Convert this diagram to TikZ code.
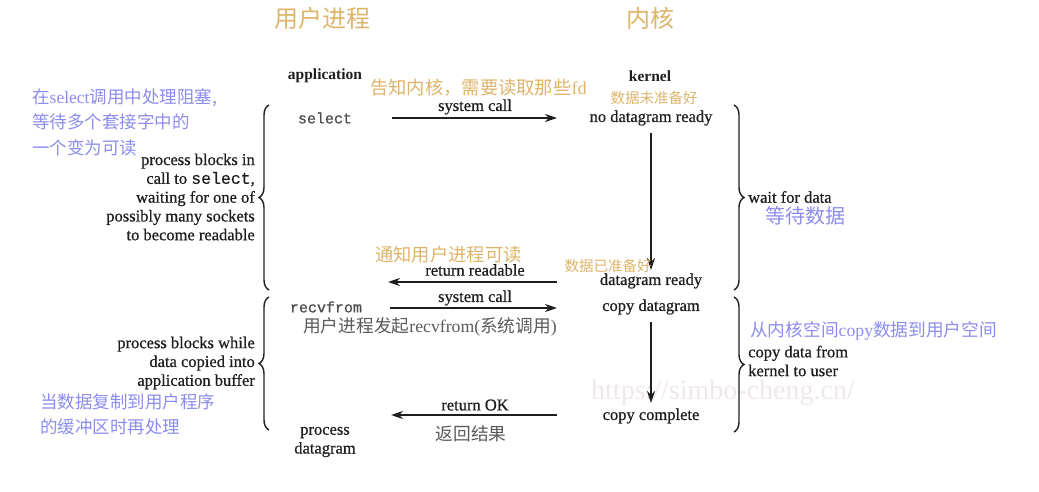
\documentclass[tikz,border=0pt]{standalone}
\usepackage{fontspec}
\setmainfont{Liberation Serif}
\setmonofont{Liberation Mono}
\newfontfamily\semib{Liberation Serif}[FakeBold=0.7]
\newfontfamily\monob{Liberation Mono}[FakeBold=0.6]
\newfontfamily\cjk{Noto Sans CJK SC}
\usetikzlibrary{arrows.meta,decorations.pathreplacing}
\definecolor{tanc}{HTML}{DDB46A}
\definecolor{vio}{HTML}{8C8CEE}
\definecolor{grc}{HTML}{5A5A5A}
\definecolor{wm}{HTML}{F0E8E8}
\definecolor{ink}{HTML}{1E1E1E}
\begin{document}
\begin{tikzpicture}[x=1pt,y=-1pt,
  en/.style={font=\semib\fontsize{16.5}{18.8}\selectfont, text=ink, inner sep=0pt},
  enb/.style={font=\bfseries\fontsize{15.5}{18}\selectfont, text=ink, inner sep=0pt},
  mono/.style={font=\monob\fontsize{15}{17}\selectfont, text=ink!80, inner sep=0pt},
  title/.style={font=\cjk\fontsize{24}{28}\selectfont, text=tanc, inner sep=0pt},
  cntan/.style={font=\cjk\fontsize{18.3}{21}\selectfont, text=tanc, inner sep=0pt},
  cntans/.style={font=\cjk\fontsize{14.5}{17}\selectfont, text=tanc, inner sep=0pt},
  cnvio/.style={font=\cjk\fontsize{17.5}{25.5}\selectfont, text=vio, inner sep=0pt},
  cngr/.style={font=\cjk\fontsize{17.7}{20}\selectfont, text=grc, inner sep=0pt},
  arr/.style={draw=ink, line width=1.8pt, -{Stealth[length=12pt,width=8pt]}},
  brc/.style={draw=ink, line width=1.4pt, decorate, decoration={brace, amplitude=10pt}}
]
\useasboundingbox (0,0) rectangle (1039,492);

% watermark (behind)
\node[font=\fontsize{28}{30}\selectfont, text=wm, inner sep=0pt] (wmk) at (723,393) {https://simbo-cheng.cn/};

% titles
\node[title] (tuser) at (322,18) {用户进程};
\node[title] (tkern) at (650,18) {内核};
\node[enb] (app) at (325,76) {application};
\node[enb] (kern) at (650,76) {kernel};

% annotations
\node[cntan, anchor=west] (tell) at (370,88) {告知内核，需要读取那些{\rmfamily fd}};
\node[cntans] (notready) at (654,98) {数据未准备好};
\node[cnvio, anchor=west, align=left] (lefta) at (32,122) {在{\rmfamily select}调用中处理阻塞,\\等待多个套接字中的\\一个变为可读};

% row 1
\node[mono] (select) at (325,118) {select};
\node[en] (sc1) at (475,107) {system call};
\node[en] (nodg) at (651,118) {no datagram ready};
\coordinate (a1s) at (392,118);
\coordinate (a1e) at (557,118);
\draw[arr] (a1s) -- (a1e);

\node[en, anchor=east, align=right] (blk1) at (255,197) {process blocks in\\call to {\monob select},\\waiting for one of\\possibly many sockets\\to become readable};

% braces 1
\coordinate (lb1b) at (269,290);
\coordinate (lb1t) at (269,105);
\draw[brc] (lb1b) -- (lb1t);
\coordinate (rb1t) at (734,105);
\coordinate (rb1b) at (734,290);
\draw[brc] (rb1t) -- (rb1b);
\node[en, anchor=west] (wait) at (748,197) {wait for data};
\node[font=\cjk\fontsize{20}{24}\selectfont, text=vio, inner sep=0pt] (waitcn) at (805,216) {等待数据};

% down arrow 1
\coordinate (d1s) at (651,133);
\coordinate (d1e) at (651,270);
\draw[arr] (d1s) -- (d1e);

% row 2
\node[cntan, anchor=west] (notify) at (375,255) {通知用户进程可读};
\node[cntans] (ready) at (608,266) {数据已准备好};
\node[en] (rr) at (475,270) {return readable};
\node[en] (dgr) at (651,281) {datagram ready};
\coordinate (a2s) at (557,282);
\coordinate (a2e) at (388,282);
\draw[arr] (a2s) -- (a2e);

% row 3
\node[mono] (recv) at (326,307) {recvfrom};
\node[en] (sc2) at (475,298) {system call};
\node[en] (cdg) at (651,307) {copy datagram};
\coordinate (a3s) at (390,308);
\coordinate (a3e) at (557,308);
\draw[arr] (a3s) -- (a3e);
\node[cngr, anchor=west] (recvcn) at (303,327) {用户进程发起{\rmfamily recvfrom(}系统调用{\rmfamily )}};

% braces 2
\coordinate (lb2b) at (269,430);
\coordinate (lb2t) at (269,297);
\draw[brc] (lb2b) -- (lb2t);
\coordinate (rb2t) at (734,297);
\coordinate (rb2b) at (734,432);
\draw[brc] (rb2t) -- (rb2b);

\node[en, anchor=east, align=right] (blk2) at (255,363) {process blocks while\\data copied into\\application buffer};
\node[cnvio, anchor=west, align=left] (leftb) at (40,414.5) {当数据复制到用户程序\\的缓冲区时再处理};

\node[font=\cjk\fontsize{17.7}{20}\selectfont, text=vio, inner sep=0pt, anchor=west] (copycn) at (750,331) {从内核空间{\rmfamily copy}数据到用户空间};
\node[en, anchor=west, align=left] (copyen) at (748,361) {copy data from\\kernel to user};

% down arrow 2
\coordinate (d2s) at (651,322);
\coordinate (d2e) at (651,403);
\draw[arr] (d2s) -- (d2e);

% row 4
\node[en] (rok) at (475,405) {return OK};
\node[en] (cc) at (651,416) {copy complete};
\coordinate (a4s) at (557,415);
\coordinate (a4e) at (391,415);
\draw[arr] (a4s) -- (a4e);
\node[cngr] (ret) at (471,434) {返回结果};
\node[en, align=center] (pd) at (325,442) {process\\datagram};
\end{tikzpicture}
\end{document}
